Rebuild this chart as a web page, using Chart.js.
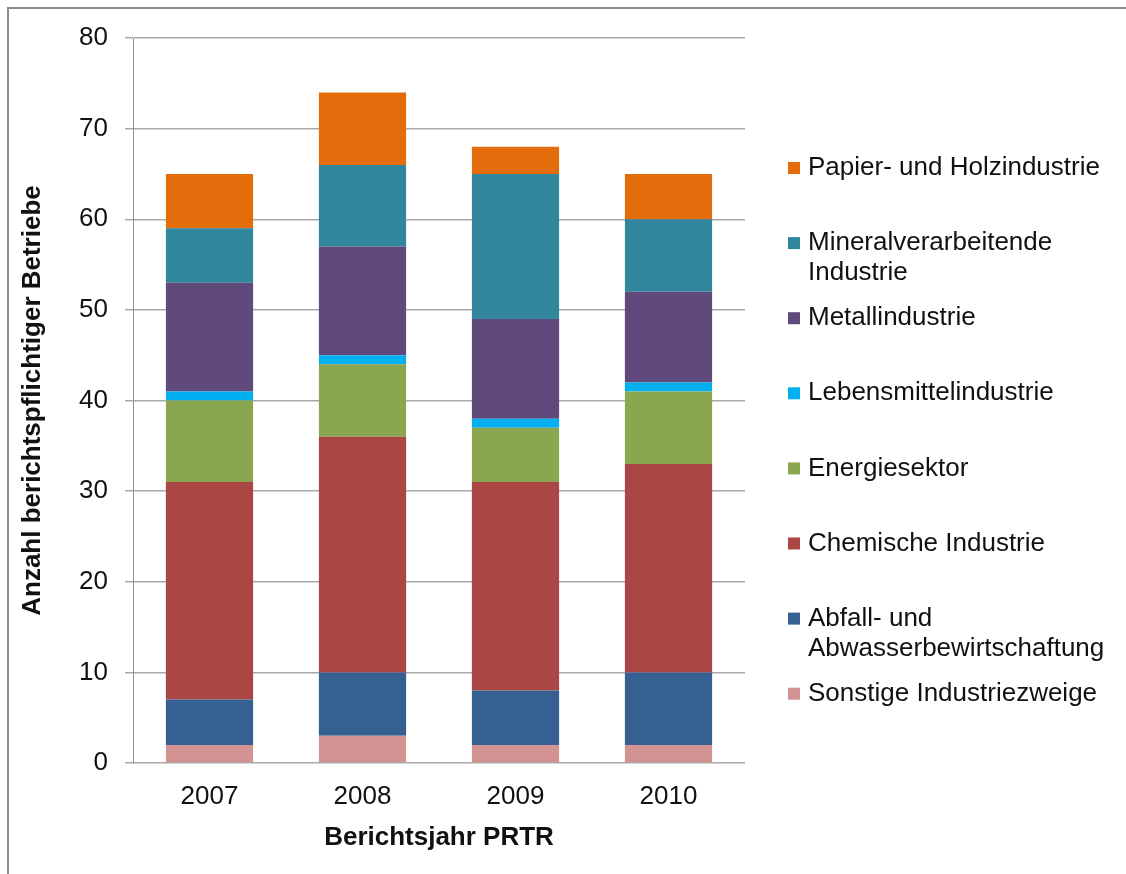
<!DOCTYPE html>
<html lang="de">
<head>
<meta charset="utf-8">
<title>Anzahl berichtspflichtiger Betriebe</title>
<script src="https://cdn.jsdelivr.net/npm/chart.js@4.4.1/dist/chart.umd.min.js"></script>
<style>
  html, body { margin: 0; padding: 0; background: #fff; overflow: hidden; }
  #wrap { position: relative; width: 1126px; height: 874px; }
  #frame {
    position: absolute; left: 7px; top: 7px; width: 1200px; height: 1000px;
    border: 2px solid #8c8c8c; box-sizing: border-box; pointer-events: none;
  }
  canvas { position: absolute; left: 0; top: 0; }
</style>
</head>
<body>
<div id="wrap">
  <div id="frame"></div>
  <canvas id="chart" width="1126" height="874"></canvas>
</div>
<script>
// Berichtsjahre
const years = ['2007', '2008', '2009', '2010'];

// Werte je Branche (von unten nach oben gestapelt)
const sonstige     = [2, 3, 2, 2];
const abfall       = [5, 7, 6, 8];
const chemie       = [24, 26, 23, 23];
const energie      = [9, 8, 6, 8];
const lebensmittel = [1, 1, 1, 1];
const metall       = [12, 12, 11, 10];
const mineral      = [6, 9, 16, 8];
const papier       = [6, 8, 3, 5];

const yTicks = [0, 10, 20, 30, 40, 50, 60, 70, 80];

const FONT = '"Liberation Sans", Arial, sans-serif';

const series = [
    { label: ['Sonstige Industriezweige'], data: sonstige, color: '#D39393' },
    { label: ['Abfall- und', 'Abwasserbewirtschaftung'], data: abfall, color: '#376092' },
    { label: ['Chemische Industrie'], data: chemie, color: '#AA4644' },
    { label: ['Energiesektor'], data: energie, color: '#8AA64F' },
    { label: ['Lebensmittelindustrie'], data: lebensmittel, color: '#00B0F0' },
    { label: ['Metallindustrie'], data: metall, color: '#604A7B' },
    { label: ['Mineralverarbeitende', 'Industrie'], data: mineral, color: '#31859C' },
    { label: ['Papier- und Holzindustrie'], data: papier, color: '#E46C0A' }
];

// Legende rechts, wie im Original (oberste Serie zuerst)
const sideLegend = {
    id: 'sideLegend',
    afterDraw(chart) {
        const ctx = chart.ctx;
        const x0 = 788, firstY = 168, step = 75.1, lineGap = 30;
        ctx.save();
        ctx.font = '26px ' + FONT;
        ctx.textBaseline = 'middle';
        ctx.textAlign = 'left';
        const items = chart.data.datasets.slice().reverse();
        items.forEach((ds, i) => {
            const y = firstY + i * step;
            ctx.fillStyle = ds.backgroundColor;
            ctx.fillRect(x0, y - 6, 12, 12);
            ctx.fillStyle = '#111';
            ds.legendLines.forEach((line, j) => {
                ctx.fillText(line, x0 + 20, y + j * lineGap);
            });
        });
        ctx.restore();
    }
};

new Chart(document.getElementById('chart'), {
    type: 'bar',
    data: {
        labels: years,
        datasets: series.map(s => ({
            label: s.label.join(' '),
            legendLines: s.label,
            data: s.data,
            backgroundColor: s.color,
            borderWidth: 0,
            categoryPercentage: 1,
            barPercentage: 0.57
        }))
    },
    options: {
        responsive: false,
        animation: false,
        layout: { padding: { left: 0, top: 38, right: 381, bottom: 0 } },
        plugins: {
            legend: { display: false },
            tooltip: { enabled: false }
        },
        scales: {
            x: {
                stacked: true,
                grid: { display: false, drawTicks: false },
                border: { display: false },
                ticks: { color: '#111', font: { family: FONT, size: 26 }, padding: 18 },
                title: {
                    display: true,
                    text: 'Berichtsjahr PRTR',
                    color: '#111',
                    font: { family: FONT, size: 26, weight: 'bold' },
                    padding: { top: 0, bottom: 21 }
                },
                afterFit(scale) { scale.height = 111; }
            },
            y: {
                stacked: true,
                min: 0,
                max: 80,
                afterBuildTicks(scale) { scale.ticks = yTicks.map(v => ({ value: v })); },
                grid: { color: '#a9a9a9', lineWidth: 1.5, tickLength: 8 },
                border: { display: true, color: '#8c8c8c', width: 1 },
                ticks: { color: '#111', font: { family: FONT, size: 26 }, padding: 17 },
                title: {
                    display: true,
                    text: 'Anzahl berichtspflichtiger Betriebe',
                    color: '#111',
                    font: { family: FONT, size: 26, weight: 'bold' },
                    padding: { top: 17, bottom: 0 }
                },
                afterFit(scale) { scale.width = 133; }
            }
        }
    },
    plugins: [sideLegend]
});
</script>
</body>
</html>
